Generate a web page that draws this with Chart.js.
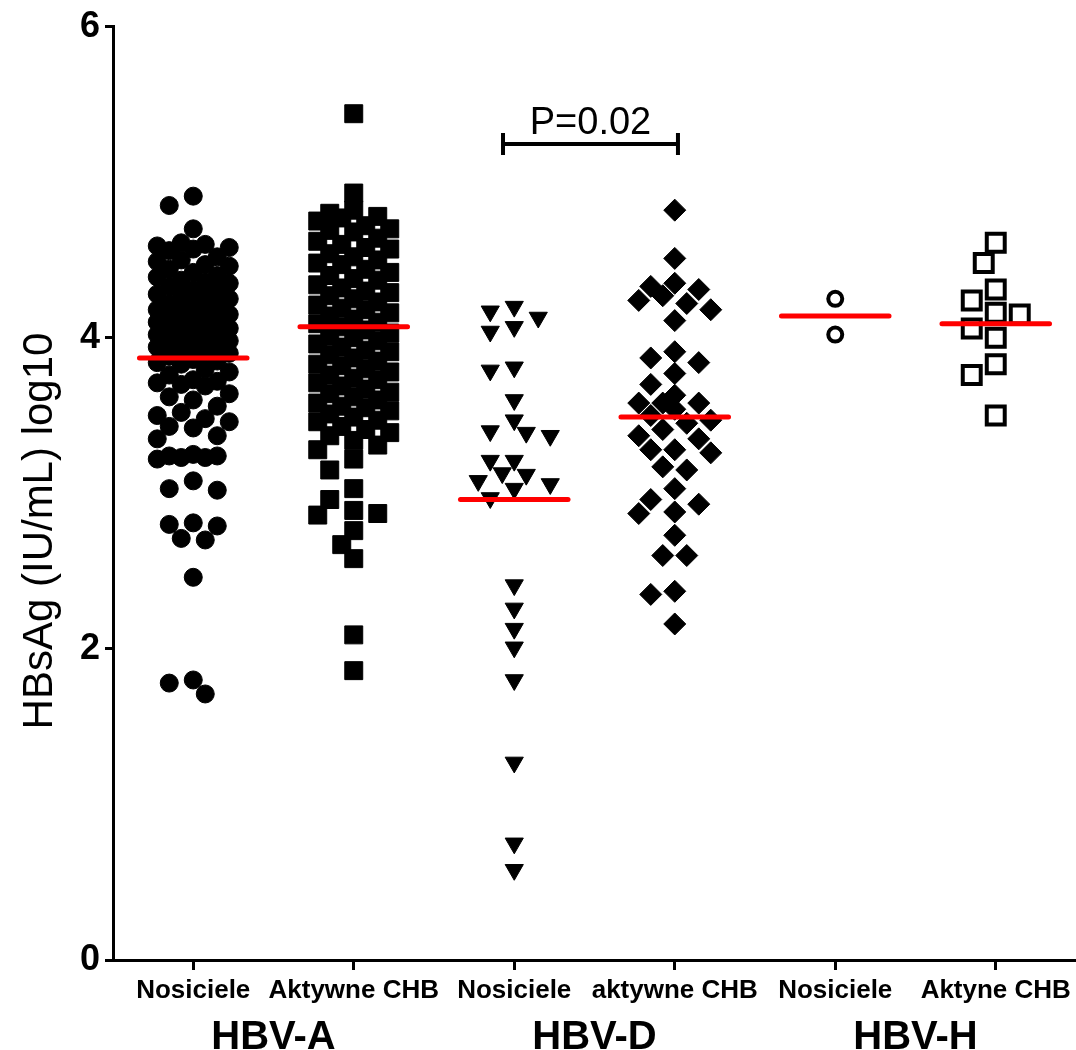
<!DOCTYPE html>
<html>
<head>
<meta charset="utf-8">
<script src="https://cdn.jsdelivr.net/npm/chart.js@4.4.1/dist/chart.umd.min.js"></script>
<style>
  body { margin: 0; background: #fff; }
</style>
</head>
<body>
<canvas id="chart" width="1076" height="1050"></canvas>
<script>
// categorias e grupos
const categories = ['Nosiciele', 'Aktywne CHB', 'Nosiciele', 'aktywne CHB', 'Nosiciele', 'Aktyne CHB'];
const groups = ['HBV-A', 'HBV-D', 'HBV-H'];
const yTicks = [0, 2, 4, 6];

// valores HBsAg log10
const aNosiciele = [4.91, 4.85, 4.70,
  4.61, 4.60, 4.59, 4.58, 4.57, 4.56,
  4.52, 4.50, 4.49, 4.47, 4.46, 4.44,
  4.42, 4.40, 4.39, 4.37, 4.36, 4.35, 4.33,
  4.31, 4.30, 4.28, 4.27, 4.26, 4.25,
  4.22, 4.21, 4.20, 4.18, 4.17, 4.16, 4.15,
  4.13, 4.12, 4.11, 4.10, 4.09, 4.08,
  4.06, 4.05, 4.04, 4.03, 4.02, 4.01, 4.00,
  3.98, 3.97, 3.96, 3.95, 3.94, 3.93,
  3.91, 3.90, 3.88, 3.86, 3.85, 3.84, 3.83,
  3.80, 3.78, 3.76, 3.73, 3.72, 3.71, 3.70, 3.69,
  3.64, 3.62, 3.60, 3.56, 3.52, 3.50, 3.48, 3.46,
  3.43, 3.42, 3.37, 3.35,
  3.25, 3.24, 3.24, 3.23, 3.23, 3.22,
  3.08, 3.03, 3.02,
  2.81, 2.80, 2.79, 2.71, 2.70,
  2.46,
  1.80, 1.78, 1.71];
const aAktywne = [5.44, 4.93,
  4.82, 4.80, 4.78, 4.77, 4.75,
  4.72, 4.70, 4.69, 4.68,
  4.64, 4.62, 4.60, 4.58, 4.57,
  4.54, 4.52, 4.50, 4.48, 4.47,
  4.44, 4.42, 4.40, 4.38, 4.37,
  4.34, 4.32, 4.30, 4.29, 4.27,
  4.25, 4.23, 4.21, 4.19, 4.18,
  4.16, 4.14, 4.12, 4.10, 4.09,
  4.07, 4.05, 4.03, 4.01, 4.00,
  3.98, 3.96, 3.94, 3.92, 3.91,
  3.89, 3.87, 3.85, 3.83, 3.82,
  3.80, 3.78, 3.76, 3.74, 3.73,
  3.71, 3.69, 3.67, 3.65, 3.64,
  3.62, 3.60, 3.58, 3.56, 3.55,
  3.53, 3.51, 3.49, 3.47, 3.46,
  3.43, 3.41, 3.39, 3.37,
  3.34, 3.31, 3.28,
  3.22, 3.15, 3.03, 2.96, 2.89, 2.87, 2.86, 2.76, 2.67, 2.58, 2.09, 1.86];
const dNosiciele = [4.20, 4.17, 4.13, 4.07, 4.04, 3.81, 3.79, 3.60, 3.47, 3.40, 3.39, 3.37,
  3.21, 3.21, 3.13, 3.12, 3.08, 3.06, 3.03, 2.97, 2.41, 2.26, 2.13, 2.01, 1.80, 1.27, 0.75, 0.58];
const dAktywne = [4.82, 4.51, 4.35, 4.33, 4.31, 4.27, 4.24, 4.22, 4.18, 4.11, 3.91, 3.87, 3.84,
  3.77, 3.70, 3.63, 3.58, 3.58, 3.58, 3.54, 3.50, 3.47, 3.45, 3.41, 3.37, 3.35, 3.28, 3.28,
  3.26, 3.17, 3.15, 3.03, 2.96, 2.93, 2.88, 2.87, 2.73, 2.60, 2.60, 2.37, 2.35, 2.16];
const hNosiciele = [4.25, 4.02];
const hAktyne = [4.61, 4.48, 4.31, 4.24, 4.16, 4.15, 4.06, 4.00, 3.83, 3.76, 3.50];
const medians = [3.87, 4.07, 2.96, 3.49, 4.14, 4.09];
const pValue = 'P=0.02';

const series = [aNosiciele, aAktywne, dNosiciele, dAktywne, hNosiciele, hAktyne];

// estilos dos marcadores (estilo GraphPad)
const markers = [
  { pointStyle: 'circle', radius: 9, fill: '#000', bw: 1, size: 18, rotation: 0 },
  { pointStyle: 'rect', radius: 12.7, fill: '#000', bw: 1, size: 18, rotation: 0 },
  { pointStyle: 'triangle', radius: 10.5, fill: '#000', bw: 1, size: 18, rotation: 180 },
  { pointStyle: 'rectRot', radius: 11, fill: '#000', bw: 1, size: 22, rotation: 0 },
  { pointStyle: 'circle', radius: 7, fill: '#fff', bw: 4, size: 20, rotation: 0 },
  { pointStyle: 'rect', radius: 12.7, fill: '#fff', bw: 4, size: 22, rotation: 0 }
];

const pointSets = series.map((vals, i) => ({
  type: 'scatter',
  data: vals.map(v => ({ x: i, y: v })),
  pointStyle: markers[i].pointStyle,
  pointRadius: markers[i].radius,
  pointRotation: markers[i].rotation,
  backgroundColor: markers[i].fill,
  borderColor: '#000',
  borderWidth: markers[i].bw,
  order: 2
}));

const medianSets = medians.map((m, i) => ({
  type: 'line',
  data: [{ x: i - 0.335, y: m }, { x: i + 0.335, y: m }],
  borderColor: '#ff0000',
  borderWidth: 5,
  borderCapStyle: 'round',
  pointRadius: 0,
  order: 0
}));

// titulo do eixo Y e barra de significancia
const extras = {
  id: 'extras',
  afterDraw(chart) {
    const ctx = chart.ctx;
    const xs = chart.scales.x, ys = chart.scales.y;
    ctx.save();
    ctx.fillStyle = '#000';
    ctx.translate(40, 531);
    ctx.rotate(-Math.PI / 2);
    ctx.font = '42px "Liberation Sans", Arial, sans-serif';
    ctx.textAlign = 'center';
    ctx.textBaseline = 'middle';
    ctx.fillText('HBsAg (IU/mL) log10', 0, 0);
    ctx.restore();

    const x1 = xs.getPixelForValue(1.93), x2 = xs.getPixelForValue(3.02);
    const yb = ys.getPixelForValue(5.245);
    ctx.save();
    ctx.strokeStyle = '#000';
    ctx.lineWidth = 4;
    ctx.beginPath();
    ctx.moveTo(x1, yb); ctx.lineTo(x2, yb);
    ctx.moveTo(x1, yb - 11); ctx.lineTo(x1, yb + 11);
    ctx.moveTo(x2, yb - 11); ctx.lineTo(x2, yb + 11);
    ctx.stroke();
    ctx.fillStyle = '#000';
    ctx.font = '38px "Liberation Sans", Arial, sans-serif';
    ctx.textAlign = 'center';
    ctx.textBaseline = 'alphabetic';
    ctx.fillText(pValue, (x1 + x2) / 2, yb - 10);
    ctx.restore();
  }
};

function noSidePadding(s, h) {
  s.height = h;
  s.paddingLeft = 0;
  s.paddingRight = 0;
}

const chart = new Chart(document.getElementById('chart'), {
  type: 'scatter',
  data: { datasets: pointSets.concat(medianSets) },
  plugins: [extras],
  options: {
    responsive: false,
    animation: false,
    devicePixelRatio: 1,
    layout: { autoPadding: false, padding: { top: 22, right: 0, left: 0, bottom: 0 } },
    plugins: { legend: { display: false }, tooltip: { enabled: false } },
    scales: {
      x: {
        type: 'linear', position: 'bottom', min: -0.5, max: 5.5,
        afterBuildTicks: s => { s.ticks = categories.map((c, i) => ({ value: i })); },
        afterFit: s => noSidePadding(s, 46),
        ticks: {
          callback: (v, i) => categories[i],
          color: '#000', font: { family: 'Liberation Sans', size: 26, weight: 'bold' },
          padding: 5, maxRotation: 0, autoSkip: false
        },
        grid: { drawOnChartArea: false, color: '#000', tickLength: 10, tickWidth: 3 },
        border: { color: '#000', width: 3 }
      },
      x2: {
        type: 'linear', position: 'bottom', min: -0.5, max: 5.5,
        afterBuildTicks: s => { s.ticks = groups.map((g, i) => ({ value: i * 2 + 0.5 })); },
        afterFit: s => noSidePadding(s, 44),
        ticks: {
          callback: (v, i) => groups[i],
          color: '#000', font: { family: 'Liberation Sans', size: 40, weight: 'bold' },
          padding: 0, maxRotation: 0, autoSkip: false
        },
        grid: { display: false },
        border: { display: false }
      },
      y: {
        min: 0, max: 6,
        afterBuildTicks: s => { s.ticks = yTicks.map(v => ({ value: v })); },
        afterFit: s => { s.width = 113; },
        ticks: {
          color: '#000', font: { family: 'Liberation Sans', size: 36, weight: 'bold' }, padding: 5
        },
        grid: { drawOnChartArea: false, color: '#000', tickLength: 8, tickWidth: 3 },
        border: { color: '#000', width: 3 }
      }
    }
  }
});

// rozrzut punktow w kolumnach (beeswarm) na podstawie skali
function swarm(vals, idx, size) {
  const xs = chart.scales.x, ys = chart.scales.y;
  const step = 12;
  const placed = [];
  const x0 = xs.getPixelForValue(idx);
  return vals.slice().sort((a, b) => b - a).map(v => {
    const py = ys.getPixelForValue(v);
    let best = 0, bestDist = -1;
    for (const k of [0, -1, 1, -2, 2, -3, 3]) {
      const px = k * step;
      let minD = Infinity;
      placed.forEach(p => {
        const d = Math.hypot(p.px - px, p.py - py);
        if (d < minD) minD = d;
      });
      if (minD >= size * 0.92) { best = px; bestDist = minD; break; }
      if (minD > bestDist + 0.5) { bestDist = minD; best = px; }
    }
    placed.push({ px: best, py });
    return { x: xs.getValueForPixel(x0 + best), y: v };
  });
}

series.forEach((vals, i) => {
  chart.data.datasets[i].data = swarm(vals, i, markers[i].size);
});
chart.update('none');
</script>
</body>
</html>
